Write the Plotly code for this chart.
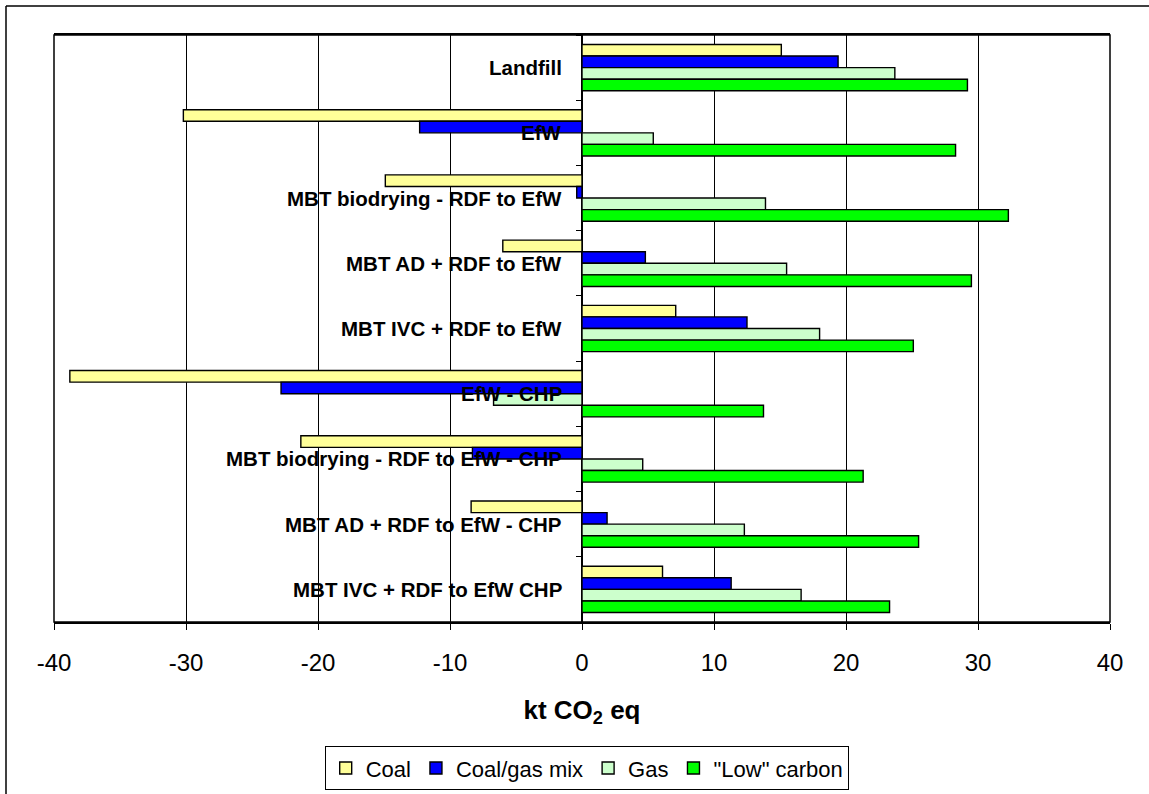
import plotly.graph_objects as go

categories = ["Landfill", "EfW", "MBT biodrying - RDF to EfW", "MBT AD + RDF to EfW",
              "MBT IVC + RDF to EfW", "EfW - CHP", "MBT biodrying - RDF to EfW - CHP",
              "MBT AD + RDF to EfW - CHP", "MBT IVC + RDF to EfW CHP"]
coal = [15.1, -30.2, -14.9, -6.0, 7.1, -38.8, -21.3, -8.4, 6.1]
coal_gas = [19.4, -12.3, -0.4, 4.8, 12.5, -22.8, -8.3, 1.9, 11.3]
gas = [23.7, 5.4, 13.9, 15.5, 18.0, -6.7, 4.6, 12.3, 16.6]
low_carbon = [29.2, 28.3, 32.3, 29.5, 25.1, 13.75, 21.3, 25.5, 23.3]

series_names = ["Coal", "Coal/gas mix", "Gas", '"Low" carbon']
series_values = [coal, coal_gas, gas, low_carbon]
series_colors = ["#FFFF99", "#0000FF", "#CCFFCC", "#00FF00"]

x_ticks = [-40, -30, -20, -10, 0, 10, 20, 30, 40]
x_ticktext = [str(v) for v in x_ticks]

FONT = "Liberation Sans, Arial"

fig = go.Figure()
for name, vals, col in zip(series_names, series_values, series_colors):
    fig.add_trace(go.Bar(
        y=categories, x=vals, name=name, orientation="h",
        marker=dict(color=col, line=dict(color="black", width=1.4)),
    ))

for cat in categories:
    fig.add_annotation(x=0, y=cat, xref="x", yref="y", text="<b>%s</b>" % cat,
                       showarrow=False, xanchor="right", xshift=-18, yanchor="middle",
                       font=dict(family=FONT, size=20.5, color="black"))

W, H = 1149, 794
L, R, T, B = 54, 1110, 35, 622

fig.update_layout(
    width=W, height=H,
    margin=dict(l=L, r=W - R, t=T, b=H - B, autoexpand=False),
    paper_bgcolor="white", plot_bgcolor="white",
    barmode="group", bargap=0.29, bargroupgap=0,
    font=dict(family=FONT, size=20, color="black"),
    xaxis=dict(
        range=[-40, 40], tickvals=x_ticks, ticktext=x_ticktext, automargin=False,
        showgrid=True, gridcolor="black", gridwidth=1.2,
        zeroline=True, zerolinecolor="black", zerolinewidth=1.5,
        showline=True, linecolor="black", linewidth=1.5, mirror=True,
        ticks="outside", ticklen=6, tickcolor="black",
        tickfont=dict(size=24), ticklabelstandoff=12,
        title=dict(text="<b>kt CO<sub>2</sub> eq</b>", font=dict(size=26), standoff=26),
    ),
    yaxis=dict(
        autorange="reversed", anchor="free", position=0.5, automargin=False,
        showticklabels=False, ticks="outside", tickson="boundaries",
        ticklen=6, tickcolor="black", showgrid=False, showline=False, zeroline=False,
    ),
    legend=dict(
        orientation="h", xref="container", yref="container",
        x=587 / W, xanchor="center", y=(H - 746) / H, yanchor="top",
        bordercolor="black", borderwidth=1.2, font=dict(size=22),
        traceorder="normal", itemwidth=30, tracegroupgap=0,
    ),
    shapes=[
        dict(type="rect", xref="paper", yref="paper", x0=0, x1=1, y0=0, y1=1,
             line=dict(color="black", width=1.5)),
        dict(type="line", xref="paper", yref="paper",
             x0=(6 - L) / (R - L), x1=(W + 20 - L) / (R - L),
             y0=(B - 6) / (B - T), y1=(B - 6) / (B - T),
             line=dict(color="black", width=1.5)),
        dict(type="line", xref="paper", yref="paper",
             x0=(6 - L) / (R - L), x1=(6 - L) / (R - L),
             y0=(B - 6) / (B - T), y1=(B - H - 20) / (B - T),
             line=dict(color="black", width=1.5)),
    ],
)

fig.write_html("out.html")
